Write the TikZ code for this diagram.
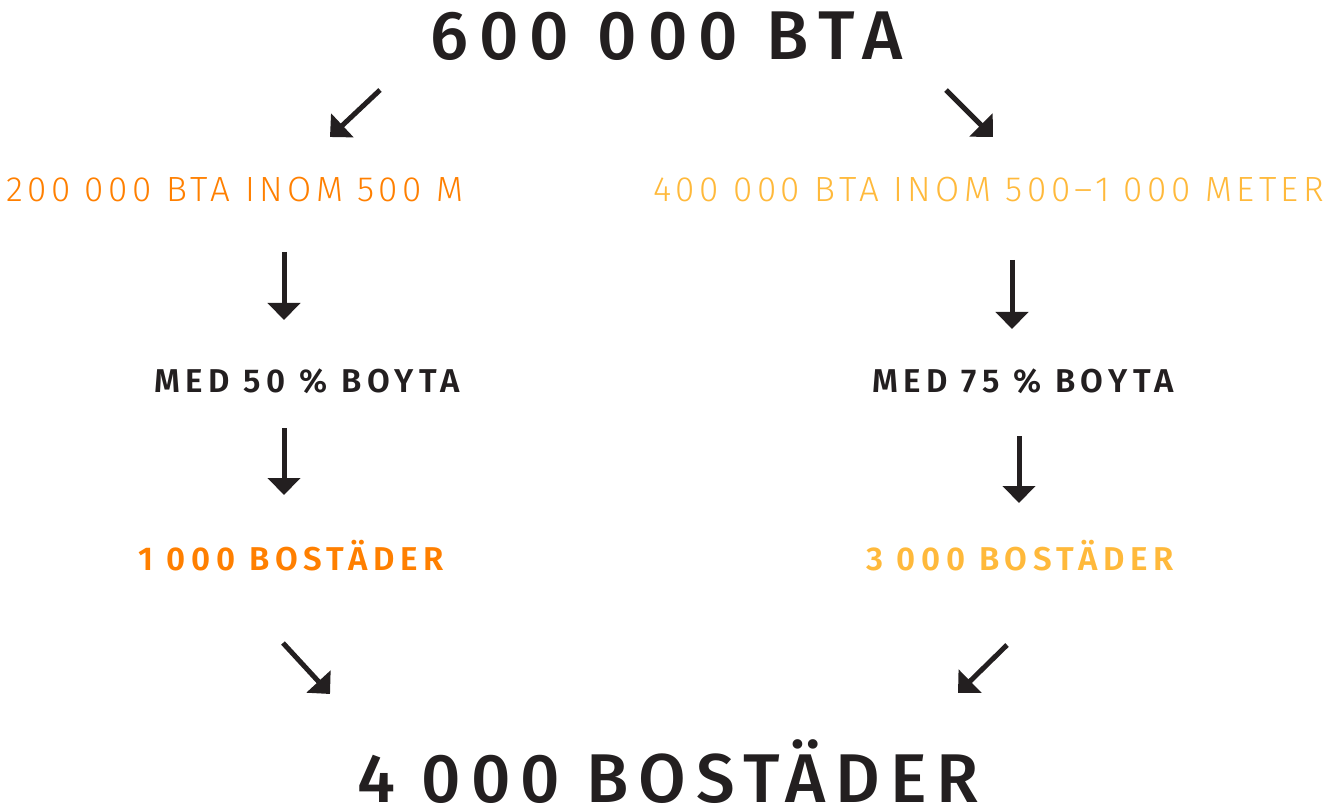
\documentclass[tikz,border=0pt]{standalone}
\usepackage{fontspec}
\setmainfont{Fira Sans}
\newfontfamily\titlefont[LetterSpace=16]{Fira Sans Medium}
\newfontfamily\endfont[LetterSpace=14]{Fira Sans Medium}
\newfontfamily\thinfont[LetterSpace=13]{Fira Sans Light}
\newfontfamily\stepfont[LetterSpace=17]{Fira Sans SemiBold}
\usetikzlibrary{arrows.meta, positioning}

\definecolor{inkdark}{HTML}{231F20}
\definecolor{nearorange}{HTML}{FF7F00}
\definecolor{faryellow}{HTML}{FFB93B}

\begin{document}
\begin{tikzpicture}[x=1pt,y=-1pt,
    every node/.style={inner sep=0pt,anchor=base west,text=inkdark},
    big node/.style={font=\titlefont\fontsize{69}{69}\selectfont},
    end node/.style={font=\endfont\fontsize{69}{69}\selectfont},
    zone node/.style={font=\thinfont\fontsize{35}{35}\selectfont},
    step node/.style={font=\stepfont\fontsize{33}{33}\selectfont},
    arr/.style={-{Triangle[length=17pt,width=32pt]},line width=5pt,draw=inkdark}]

    \useasboundingbox (0,0) rectangle (1326,810);

    % texts
    \node[big node] (total) at (430,60) {600 000 BTA};
    \node[zone node,text=nearorange] (near) at (6,202) {200 000 BTA INOM 500 M};
    \node[zone node,text=faryellow] (far) at (653,202) {400 000 BTA INOM 500–1 000 METER};
    \node[step node] (nearshare) at (154,392) {MED 50 \% BOYTA};
    \node[step node] (farshare) at (872,392) {MED 75 \% BOYTA};
    \node[step node,text=nearorange] (nearhomes) at (138,570) {1 000 BOSTÄDER};
    \node[step node,text=faryellow] (farhomes) at (866,570) {3 000 BOSTÄDER};
    \node[end node] (homes) at (357,802) {4 000 BOSTÄDER};

    % arrow ends
    \coordinate (a1) at (380,90);   \coordinate (b1) at (330,137);
    \coordinate (a2) at (946,90);   \coordinate (b2) at (993,137);
    \coordinate (a3) at (284,252);  \coordinate (b3) at (284,320);
    \coordinate (a4) at (1012,260); \coordinate (b4) at (1012,329);
    \coordinate (a5) at (284,428);  \coordinate (b5) at (284,495);
    \coordinate (a6) at (1019,436); \coordinate (b6) at (1019,503);
    \coordinate (a7) at (283,643);  \coordinate (b7) at (330,694);
    \coordinate (a8) at (1007,645); \coordinate (b8) at (958,693);

    \foreach \i in {1,...,8}
        \draw[arr] (a\i) -- (b\i);
\end{tikzpicture}
\end{document}
